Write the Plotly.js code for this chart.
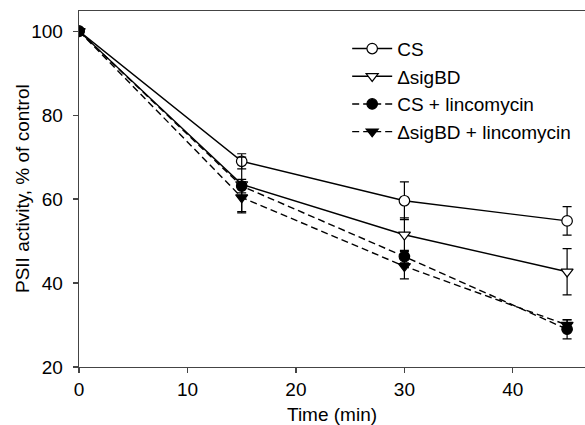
<!DOCTYPE html>
<html>
<head>
<meta charset="utf-8">
<script src="https://cdn.plot.ly/plotly-3.0.1.min.js"></script>
<style>
  html, body { margin: 0; padding: 0; background: #fff; }
  #chart { width: 585px; height: 425px; }
</style>
</head>
<body>
<div id="chart"></div>
<script>
// Time points (min)
const timeMin = [0, 15, 30, 45];

// PSII activity, % of control, with standard errors
const csValues = [100, 69, 59.6, 54.8];
const csErr = [0, 1.8, 4.5, 3.4];

const sigBDValues = [100, 63.5, 51.5, 42.7];
const sigBDErr = [0, 6.5, 4.0, 5.5];

const csLincValues = [100, 63.1, 46.3, 29.0];
const csLincErr = [0, 1.6, 1.5, 2.3];

const sigBDLincValues = [100, 60.4, 44.0, 30.0];
const sigBDLincErr = [0, 3.7, 3.0, 1.2];

const seriesNames = ['CS', '\u0394sigBD', 'CS + lincomycin', '\u0394sigBD + lincomycin'];
const yTitle = 'PSII activity, % of control';
const xTitle = 'Time (min)';

// filled: true -> black marker, false -> white marker with black outline
function makeTrace(name, y, err, symbol, filled, dash) {
  return {
    x: timeMin,
    y: y,
    name: name,
    type: 'scatter',
    mode: 'lines+markers',
    line: { color: '#000', width: 1.4, dash: dash },
    marker: {
      symbol: symbol,
      size: 10.5,
      color: filled ? '#000' : '#fff',
      line: { color: '#000', width: 1.2 }
    },
    error_y: {
      type: 'data',
      array: err,
      visible: true,
      color: '#000',
      thickness: 1.2,
      width: 4.5
    }
  };
}

const traces = [
  makeTrace(seriesNames[0], csValues, csErr, 'circle', false, 'solid'),
  makeTrace(seriesNames[1], sigBDValues, sigBDErr, 'triangle-down', false, 'solid'),
  makeTrace(seriesNames[2], csLincValues, csLincErr, 'circle', true, '7px,4px'),
  makeTrace(seriesNames[3], sigBDLincValues, sigBDLincErr, 'triangle-down', true, '7px,4px')
];

const layout = {
  width: 585,
  height: 425,
  margin: { l: 79, r: 0, t: 11, b: 58 },
  paper_bgcolor: '#fff',
  plot_bgcolor: '#fff',
  font: { family: 'Liberation Sans, Arial, sans-serif', size: 19, color: '#000' },
  showlegend: true,
  legend: {
    x: 0.53, y: 0.9475, xanchor: 'left', yanchor: 'top',
    bgcolor: 'rgba(0,0,0,0)',
    font: { size: 19, color: '#000' },
    itemwidth: 40
  },
  xaxis: {
    range: [0, 46.65],
    tickvals: [0, 10, 20, 30, 40],
    ticks: 'outside', ticklen: 5, tickwidth: 1.2, tickcolor: '#444',
    showline: true, linecolor: '#444', linewidth: 1.3, mirror: true,
    showgrid: false, zeroline: false
  },
  yaxis: {
    range: [20, 104.8],
    tickvals: [20, 40, 60, 80, 100],
    ticks: 'outside', ticklen: 5, tickwidth: 1.2, tickcolor: '#444',
    ticklabelstandoff: 6,
    showline: true, linecolor: '#444', linewidth: 1.3,
    showgrid: false, zeroline: false
  },
  // axis titles placed as annotations so they can sit close to the tick labels
  annotations: [{
    text: yTitle,
    xref: 'paper', yref: 'paper',
    x: -0.1126, y: 0.5,
    xanchor: 'center', yanchor: 'middle',
    textangle: -90,
    showarrow: false,
    font: { size: 19, color: '#000' }
  }, {
    text: xTitle,
    xref: 'paper', yref: 'paper',
    x: 0.5, y: -0.101,
    xanchor: 'center', yanchor: 'top',
    showarrow: false,
    borderpad: 0,
    font: { size: 19, color: '#000' }
  }]
};

Plotly.newPlot('chart', traces, layout, { displayModeBar: false, staticPlot: true });
</script>
</body>
</html>
